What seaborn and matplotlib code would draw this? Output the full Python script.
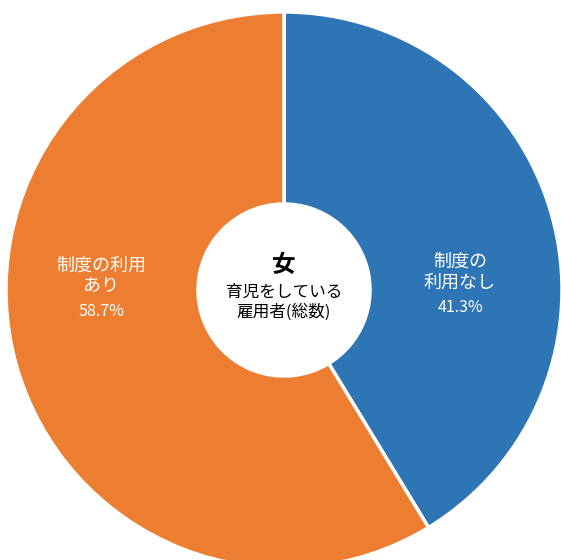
import matplotlib
matplotlib.use("Agg")
import matplotlib.pyplot as plt
import seaborn as sns

# data
categories = ["制度の\n利用なし", "制度の利用\nあり"]
shares = [41.3, 58.7]
colors = ["#2E75B6", "#ED7D31"]
center_title = "女"
center_sub = "育児をしている\n雇用者(総数)"

sns.set_theme(style="white")
plt.rcParams['font.family'] = ['Noto Sans CJK JP', 'DejaVu Sans']

fig = plt.figure(figsize=(5.61, 5.60), dpi=100)
ax = fig.add_axes([0, 0, 1, 1])

cx, cy, r = 284, 270, 278
wedges, _ = ax.pie(shares, colors=colors, startangle=90, counterclock=False,
                   center=(cx, cy), radius=r, frame=True,
                   wedgeprops=dict(width=r - 86, edgecolor='white', linewidth=2.5))
ax.set_xlim(0, 561)
ax.set_ylim(0, 560)
ax.set_aspect('equal')
ax.axis('off')

# slice labels (name block centre, percent position)
label_pos = [(460, 288, 253), (101, 284, 248)]
for cat, val, (x, y1, y2) in zip(categories, shares, label_pos):
    ax.text(x, y1, cat, ha='center', va='center', color='white',
            fontsize=13, linespacing=1.2)
    ax.text(x, y2, f"{val}%", ha='center', va='center',
            color='white', fontsize=11.5)

# centre text
ax.text(cx, cy + 25, center_title, ha='center', va='center', fontsize=17,
        fontweight='bold', color='black')
ax.text(cx, cy - 12, center_sub, ha='center', va='center', fontsize=12,
        color='black', linespacing=1.2)

fig.savefig("out.png", dpi=100)
